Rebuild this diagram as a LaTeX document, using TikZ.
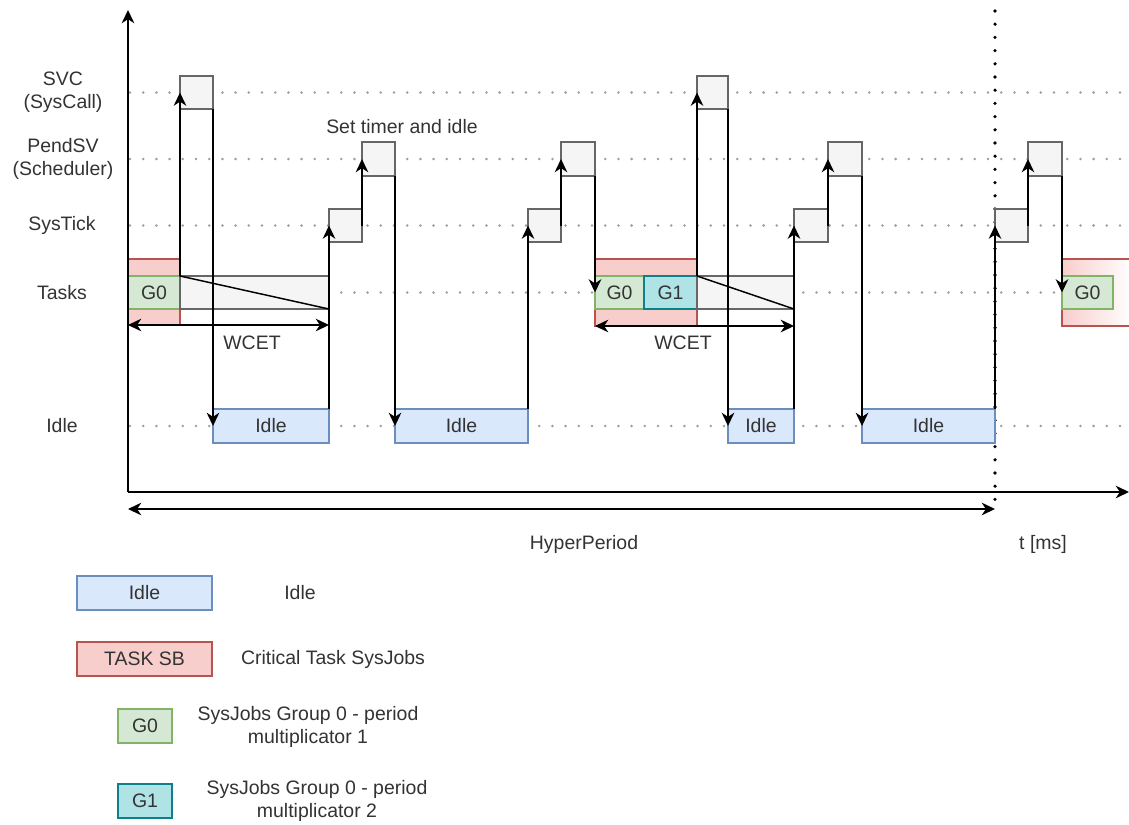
\documentclass[tikz,border=0pt]{standalone}
\usepackage{fontspec}
\setmainfont{Liberation Sans}
\usetikzlibrary{arrows.meta}
\definecolor{txt}{HTML}{333333}
\definecolor{grayF}{HTML}{F5F5F5}
\definecolor{grayS}{HTML}{666666}
\definecolor{idleF}{HTML}{DAE8FC}
\definecolor{idleS}{HTML}{6C8EBF}
\definecolor{taskF}{HTML}{F8CECC}
\definecolor{taskS}{HTML}{B85450}
\definecolor{gzF}{HTML}{D5E8D4}
\definecolor{gzS}{HTML}{82B366}
\definecolor{goF}{HTML}{B0E3E6}
\definecolor{goS}{HTML}{0E8088}
\definecolor{rowgray}{HTML}{9E9E9E}
\newcommand{\bx}[7]{\node[#6, minimum width={(#4-#2)*0.75pt}, minimum height={(#5-#3)*0.75pt}] (#1) at ({(#2+#4)/2},{(#3+#5)/2}) {#7};}
\begin{document}
\begin{tikzpicture}[x=0.75pt,y=-0.75pt, line width=1.1pt,
  every node/.style={font=\fontsize{14.6pt}{17.5pt}\selectfont, text=txt},
  box/.style={draw, inner sep=0pt, outer sep=0pt, line width=1.1pt, align=center},
  graybox/.style={box, draw=grayS, fill=grayF},
  idlebox/.style={box, draw=idleS, fill=idleF},
  taskbox/.style={box, draw=taskS, fill=taskF},
  gzero/.style={box, draw=gzS, fill=gzF},
  gone/.style={box, draw=goS, fill=goF},
  row/.style={draw=rowgray, line width=2.1pt, line cap=round, dash pattern=on 0pt off 9.9pt},
  vdots/.style={draw=black, line width=2.7pt, line cap=round, dash pattern=on 0pt off 9.9pt},
  arr/.style={-{Stealth[length=10pt,width=9.5pt,inset=3.2pt]}, line width=1.1pt},
  darr/.style={{Stealth[length=10pt,width=9.5pt,inset=3.2pt]}-{Stealth[length=10pt,width=9.5pt,inset=3.2pt]}, line width=1.1pt},
  lbl/.style={align=center, inner sep=0pt}]
\useasboundingbox (0,0) rectangle (1129,825);
\begin{scope}
\clip (0,0) rectangle (1129,825);
% row guide lines
\coordinate (rSa) at (130,92.5);  \coordinate (rSb) at (1129,92.5);
\coordinate (rPa) at (130,159);   \coordinate (rPb) at (1129,159);
\coordinate (rTa) at (130,225.5); \coordinate (rTb) at (1129,225.5);
\coordinate (rKa) at (130,292.5); \coordinate (rKb) at (1129,292.5);
\coordinate (rIa) at (130,426);   \coordinate (rIb) at (1129,426);
\draw[row] (rSa) -- (rSb);
\draw[row] (rPa) -- (rPb);
\draw[row] (rTa) -- (rTb);
\draw[row] (rKa) -- (rKb);
\draw[row] (rIa) -- (rIb);
% hyperperiod boundary
\coordinate (vA) at (995,11); \coordinate (vB) at (995,512);
\draw[vdots] (vA) -- (vB);
% row labels
\node[lbl] (lSVC) at (63,92.5) {SVC\\(SysCall)};
\node[lbl] (lPend) at (63,159) {PendSV\\(Scheduler)};
\node[lbl] (lTick) at (62,225.5) {SysTick};
\node[lbl] (lTask) at (62,292.5) {Tasks};
\node[lbl] (lIdle) at (62,426) {Idle};
% first cluster
\bx{tbA}{128}{259}{180}{325}{taskbox}{}
\bx{gzA}{128}{276}{180}{309}{gzero}{G0}
\bx{grA}{180}{276}{329}{309}{graybox}{}
\draw[line width=1.1pt] (grA.north west) -- (grA.south east);
\bx{svcA}{180}{76}{213}{109}{graybox}{}
\bx{idA}{213}{409}{329}{443}{idlebox}{Idle}
\bx{stA}{329}{209}{362}{242}{graybox}{}
\bx{psA}{362}{142}{395}{176}{graybox}{}
\bx{idB}{395}{409}{528}{443}{idlebox}{Idle}
\bx{stB}{528}{209}{561}{242}{graybox}{}
\bx{psB}{561}{142}{595}{176}{graybox}{}
% second cluster
\bx{tbB}{595}{259}{697}{326}{taskbox}{}
\bx{gzB}{595}{276}{644}{309}{gzero}{G0}
\bx{goB}{644}{276}{697}{309}{gone}{G1}
\bx{grB}{697}{276}{794}{309}{graybox}{}
\draw[line width=1.1pt] (grB.north west) -- (grB.south east);
\bx{svcB}{697}{76}{728}{109}{graybox}{}
\bx{idC}{728}{409}{794}{443}{idlebox}{Idle}
\bx{stC}{794}{209}{828}{242}{graybox}{}
\bx{psC}{828}{142}{862}{176}{graybox}{}
\bx{idD}{862}{409}{995}{443}{idlebox}{Idle}
\bx{stD}{995}{209}{1028}{242}{graybox}{}
\bx{psD}{1028}{142}{1062}{176}{graybox}{}
% third cluster (continuing past the edge)
\node[draw=taskS, left color=taskF, right color=white, inner sep=0pt, outer sep=0pt,
      minimum width={70*0.75pt}, minimum height={67*0.75pt}] (tbC) at (1097,292.5) {};
\bx{gzC}{1062}{276}{1113}{309}{gzero}{G0}
% connectors
\draw[arr] (grA.north west) -- (svcA.west);
\draw[arr] (svcA.south east) -- (idA.west);
\draw[arr] (idA.north east) -- (stA.west);
\draw[arr] (stA.east) -- (psA.west);
\draw[arr] (psA.south east) -- (idB.west);
\draw[arr] (idB.north east) -- (stB.west);
\draw[arr] (stB.east) -- (psB.west);
\draw[arr] (psB.south east) -- (gzB.west);
\draw[arr] (goB.north east) -- (svcB.west);
\draw[arr] (svcB.south east) -- (idC.west);
\draw[arr] (idC.north east) -- (stC.west);
\draw[arr] (stC.east) -- (psC.west);
\draw[arr] (psC.south east) -- (idD.west);
\draw[arr] (idD.north east) -- (stD.west);
\draw[arr] (stD.east) -- (psD.west);
\draw[arr] (psD.south east) -- (gzC.west);
% WCET
\draw[darr] (tbA.south west) -- (tbA.south west -| grA.east);
\node[lbl] (wcA) at (252,343) {WCET};
\draw[darr] (tbB.south west) -- (tbB.south west -| grB.east);
\node[lbl] (wcB) at (683,343) {WCET};
\node[lbl] (setT) at (402,127) {Set timer and idle};
% axes
\coordinate (O) at (128,492);
\coordinate (Ytop) at (128,10);
\coordinate (Xend) at (1129,492);
\draw[arr] (O) -- (Ytop);
\draw[arr] (O) -- (Xend);
\coordinate (hpA) at (128,509);
\coordinate (hpB) at (995,509);
\draw[darr] (hpA) -- (hpB);
\node[lbl] (hpT) at (584,544) {HyperPeriod};
\node[lbl] (tms) at (1043,544) {t [ms]};
% legend
\bx{legId}{77}{576}{212}{610}{idlebox}{Idle}
\node[lbl] (legIdT) at (300,593) {Idle};
\bx{legTk}{77}{642}{212}{676}{taskbox}{TASK SB}
\node[lbl] (legTkT) at (333,659) {Critical Task SysJobs};
\bx{legGz}{118}{709}{172}{743}{gzero}{G0}
\node[lbl] (legGzT) at (308,727) {SysJobs Group 0 - period\\multiplicator 1};
\bx{legGo}{118}{784}{172}{818}{gone}{G1}
\node[lbl] (legGoT) at (317,801) {SysJobs Group 0 - period\\multiplicator 2};
\end{scope}
\end{tikzpicture}
\end{document}
